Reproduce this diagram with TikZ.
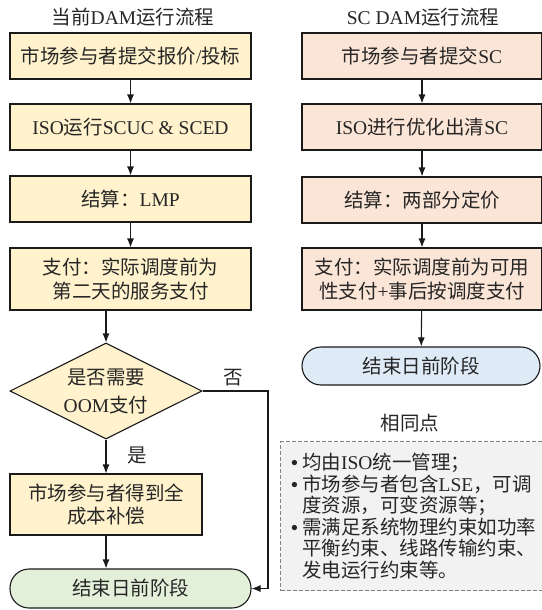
\documentclass[tikz,border=0pt]{standalone}
\usepackage{fontspec}
\setmainfont{Liberation Serif}
\newfontfamily\cjk{Noto Sans CJK SC}
\newcommand\zh[1]{{\cjk #1}}
\newcommand\bul{\makebox[11pt][l]{\bfseries •}}
\usetikzlibrary{arrows.meta,shapes.geometric}
\definecolor{yel}{HTML}{FFF2CC}
\definecolor{pch}{HTML}{FBE5D6}
\definecolor{grn}{HTML}{E2F0D9}
\definecolor{blu}{HTML}{DEEBF7}
\definecolor{gry}{HTML}{F2F2F2}
\definecolor{bord}{HTML}{1A1A1A}
\begin{document}
\begin{tikzpicture}[x=1pt,y=-1pt,
  every node/.style={font=\fontsize{19.5}{23.5}\selectfont, text=black!85},
  box/.style={draw=bord, line width=1.1pt, rectangle, inner sep=0pt, align=center, minimum height=46pt},
  lbox/.style={box, fill=yel, minimum width=241pt},
  rbox/.style={box, fill=pch, minimum width=240pt},
  term/.style={draw=bord, line width=1.1pt, rectangle, rounded corners=19pt, inner sep=0pt},
  arr/.style={draw=bord, line width=1.1pt, -{Latex[length=9pt,width=7pt]}},
]
\useasboundingbox (0,0) rectangle (541,610);

% left column
\node (tl) at (133,17) {\zh{当前}DAM\zh{运行流程}};
\node[lbox] (l1) at (130.5,56) {\zh{市场参与者提交报价}/\zh{投标}};
\node[lbox] (l2) at (130.5,127) {ISO\zh{运行}SCUC \& SCED};
\node[lbox] (l3) at (130.5,199) {\zh{结算：}LMP};
\node[lbox, minimum height=62pt] (l4) at (130.5,279) {\zh{支付：实际调度前为}\\\zh{第二天的服务支付}};
\node[diamond, shape aspect=2, draw=bord, fill=yel, line width=1.1pt, minimum width=192pt, minimum height=96pt, inner sep=0pt, align=center, font=\fontsize{19.5}{28}\selectfont] (dia) at (106,391) {\zh{是否需要}\\OOM\zh{支付}};
\node[lbox, minimum width=192pt, minimum height=61pt] (l5) at (106,504.5) {\zh{市场参与者得到全}\\\zh{成本补偿}};
\node[term, fill=grn, minimum width=241pt, minimum height=39pt] (le) at (130.5,588.5) {\zh{结束日前阶段}};
\node (no) at (233,378) {\zh{否}};
\node (yes) at (137,455) {\zh{是}};
\coordinate (nx) at (268,391);

\draw[arr] (l1) -- (l2);
\draw[arr] (l2) -- (l3);
\draw[arr] (l3) -- (l4);
\draw[arr] (dia.north |- l4.south) -- (dia.north);
\draw[arr] (dia.south) -- (l5.north);
\draw[arr] (l5.south) -- (l5.south |- le.north);
\draw[arr] (dia.east) -- (nx) -- (nx |- le.east) -- (le.east);

% right column
\node (tr) at (423,17) {SC DAM\zh{运行流程}};
\node[rbox] (r1) at (422,56) {\zh{市场参与者提交}SC};
\node[rbox] (r2) at (422,127) {ISO\zh{进行优化出清}SC};
\node[rbox] (r3) at (422,200) {\zh{结算：两部分定价}};
\node[rbox, minimum height=62pt] (r4) at (422,279) {\zh{支付：实际调度前为可用}\\\zh{性支付}+\zh{事后按调度支付}};
\node[term, fill=blu, minimum width=238pt, minimum height=38pt] (re) at (421,366) {\zh{结束日前阶段}};
\draw[arr] (r1) -- (r2);
\draw[arr] (r2) -- (r3);
\draw[arr] (r3) -- (r4);
\draw[arr] (r4) -- (re);

% common points
\node (st) at (410,423) {\zh{相同点}};
\node[draw=black!50, dash pattern=on 4pt off 2pt, fill=gry, line width=1.3pt, anchor=north west,
      minimum width=266pt, minimum height=149pt, inner sep=0pt, align=left,
      font=\fontsize{19.5}{21.5}\selectfont] (cb) at (280,441)
  {\bul\zh{均由}ISO\zh{统一管理；}\\
   \bul\zh{市场参与者包含}LSE\zh{，可调}\\
   \hspace*{11pt}\zh{度资源，可变资源等；}\\
   \bul\zh{需满足系统物理约束如功率}\\
   \hspace*{11pt}\zh{平衡约束、线路传输约束、}\\
   \hspace*{11pt}\zh{发电运行约束等。}};
\end{tikzpicture}
\end{document}
